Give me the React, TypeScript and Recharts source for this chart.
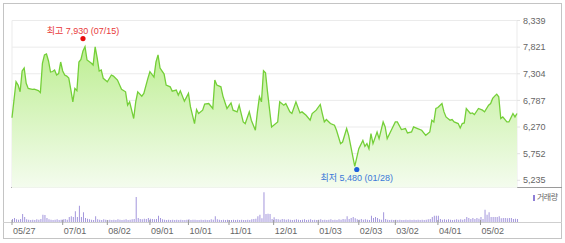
import React from 'react';
import { AreaChart, Area, XAxis, YAxis, CartesianGrid, ReferenceDot, BarChart, Bar } from 'recharts';

// trading-day index (0 = 05/27) and closing price
const priceDays = [
  0, 2, 3, 4, 5, 6, 7, 8, 10, 11, 13, 14, 15, 16, 17, 18, 19, 20, 21, 22, 23, 24, 25, 26, 27, 28, 29, 30, 31, 32,
  33, 34, 35, 36, 37, 39, 40, 41, 42, 43, 44, 45, 47, 49, 50, 52, 54, 56, 57, 58, 60, 61, 62, 64, 65, 67, 68, 70,
  71, 72, 73, 75, 76, 78, 79, 81, 82, 83, 85, 87, 88, 90, 91, 92, 94, 95, 97, 99, 100, 101, 103, 104, 106, 108,
  109, 111, 112, 114, 115, 117, 118, 120, 121, 122, 123, 124, 125, 126, 128, 131, 132, 134, 135, 137, 138, 140,
  142, 143, 145, 147, 148, 150, 152, 153, 154, 155, 157, 159, 160, 162, 163, 165, 166, 169, 171, 173, 174, 175,
  176, 177, 178, 180, 181, 183, 184, 185, 187, 189, 190, 192, 194, 195, 197, 198, 200, 202, 204, 206, 207, 208,
  209, 210, 212, 213, 214, 216, 217, 218, 220, 221, 222, 223, 224, 226, 227, 228, 230, 232, 233, 235, 236, 237,
  238, 239, 240, 241, 242, 244, 245, 247, 248, 249,
];
const priceValues = [
  6450, 7149, 7084, 6954, 7358, 7416, 7118, 7020, 7001, 7006, 6977, 6938, 7508, 7670, 7689, 7553, 7338, 7348,
  7377, 7280, 7309, 7533, 7358, 7280, 7260, 7221, 6997, 6759, 7020, 6977, 7533, 7582, 7748, 7832, 7572, 7514,
  7475, 7826, 7611, 7358, 7377, 7215, 7149, 7280, 7260, 7182, 7001, 6954, 6694, 6759, 6435, 6759, 6954, 6870,
  6923, 7215, 7344, 7241, 7533, 7670, 7416, 7299, 7084, 7051, 6967, 6987, 6889, 6973, 6770, 6923, 6661, 6337,
  6610, 6532, 6597, 6714, 6727, 6630, 7182, 7085, 7051, 6870, 6630, 6739, 6597, 6564, 6694, 6368, 6337, 6564,
  6402, 6207, 6564, 6856, 6759, 7363, 7324, 6948, 6271, 6368, 6759, 6694, 6727, 6564, 6532, 6759, 6544, 6564,
  6499, 6402, 6532, 6597, 6708, 6532, 6368, 6415, 6337, 6304, 6207, 5947, 5978, 6240, 6109, 5504, 5850, 6011,
  5894, 5947, 5850, 6142, 5947, 6173, 6045, 6368, 6271, 6045, 6207, 6368, 6368, 6220, 6240, 6154, 6173, 6271,
  6240, 6207, 6109, 6173, 6402, 6368, 6630, 6649, 6727, 6564, 6466, 6402, 6415, 6368, 6337, 6251, 6337, 6349,
  6630, 6532, 6544, 6513, 6630, 6597, 6564, 6694, 6727, 6825, 6870, 6909, 6856, 6435, 6466, 6368, 6368, 6532,
  6466, 6532,
];

// daily volume (thousand shares), one per trading day
const volumeValues = [
  90, 120, 80, 70, 90, 240, 150, 80, 70, 60,
  70, 60, 80, 70, 90, 220, 210, 120, 80, 70,
  60, 70, 80, 60, 70, 80, 90, 70, 150, 170,
  150, 320, 150, 490, 150, 290, 120, 100, 80, 70,
  60, 170, 80, 70, 60, 80, 70, 60, 70, 60,
  70, 60, 80, 70, 60, 70, 80, 60, 70, 80,
  90, 750, 120, 90, 80, 100, 90, 120, 100, 90,
  80, 90, 190, 120, 80, 70, 60, 70, 60, 70,
  60, 70, 60, 70, 60, 60, 70, 80, 60, 70,
  70, 60, 60, 70, 60, 70, 60, 60, 80, 70,
  170, 80, 70, 60, 70, 60, 70, 60, 60, 70,
  60, 70, 60, 70, 60, 60, 70, 60, 80, 90,
  100, 170, 220, 110, 890, 240, 250, 240, 90, 140,
  90, 80, 70, 90, 80, 70, 80, 70, 60, 70,
  80, 70, 60, 70, 80, 60, 70, 80, 60, 70,
  60, 70, 80, 60, 70, 60, 70, 80, 60, 70,
  60, 80, 70, 90, 80, 170, 90, 120, 150, 110,
  80, 70, 90, 70, 80, 70, 60, 190, 120, 150,
  120, 80, 70, 290, 90, 70, 60, 70, 60, 70,
  60, 70, 60, 60, 70, 60, 70, 60, 70, 60,
  70, 60, 70, 60, 70, 80, 90, 150, 190, 190,
  190, 90, 70, 80, 70, 80, 70, 60, 70, 80,
  70, 80, 70, 90, 150, 120, 90, 120, 90, 120,
  100, 150, 90, 370, 220, 290, 150, 150, 150, 150,
  170, 110, 120, 120, 110, 120, 120, 90, 100, 90,
];

const tickDays = [0, 25, 47, 68, 87, 107, 129, 151, 171, 189, 210, 231];
const tickLabels = ['05/27', '07/01', '08/02', '09/01', '10/01', '11/01', '12/01', '01/03', '02/03', '03/02', '04/01', '05/02'];
const priceTicks = [5235, 5752, 6270, 6787, 7304, 7821, 8339];
const highPoint = { day: 35, price: 7930, label: '최고 7,930 (07/15)' };
const lowPoint = { day: 170, price: 5480, label: '최저 5,480 (01/28)' };
const volumeLabel = '거래량';

const FONT = "'Liberation Sans', Arial, 'Noto Sans CJK KR', sans-serif";

const priceData = priceDays.map((d, i) => ({ d, p: priceValues[i] }));
const volumeData = volumeValues.map((v, i) => ({ d: i, v }));

const DateTick = (props: any) => {
  const { x, y, payload } = props;
  const idx = tickDays.indexOf(payload.value);
  return (
    <g>
      <line x1={x} x2={x} y1={y - 2} y2={y + 3} stroke="#999" strokeWidth={1} />
      <text x={x + 1} y={y + 12} textAnchor="start" fontSize={9} fill="#666" fontFamily={FONT}>
        {idx >= 0 ? tickLabels[idx] : ''}
      </text>
    </g>
  );
};

const HighShape = (props: any) => {
  const { cx, cy } = props;
  return (
    <g>
      <circle cx={cx} cy={cy - 3} r={2.6} fill="#e80c0c" />
      <text x={cx} y={cy - 7.8} textAnchor="middle" fontSize={9} fill="#e83a3a" fontFamily={FONT}>
        {highPoint.label}
      </text>
    </g>
  );
};

const LowShape = (props: any) => {
  const { cx, cy } = props;
  return (
    <g>
      <circle cx={cx} cy={cy + 1.8} r={2.6} fill="#1c5fdc" />
      <text x={cx} y={cy + 13.7} textAnchor="middle" fontSize={9} fill="#3a78d8" fontFamily={FONT}>
        {lowPoint.label}
      </text>
    </g>
  );
};

export default function App() {
  return (
    <div style={{ position: 'absolute', left: 0, top: 0, width: 565, height: 243, background: '#fff', fontFamily: FONT }}>
      <div style={{ position: 'absolute', left: 3, top: 3, width: 557, height: 234, border: '1px solid #c4c4c4' }} />
      <div style={{ position: 'absolute', left: 11, top: 187, width: 551, height: 1, background: '#9a9a9a' }} />
      <div style={{ position: 'absolute', left: 3, top: 222, width: 559, height: 1, background: '#cfcfcf' }} />
      <div style={{ position: 'absolute', left: 0, top: 0 }}>
        <AreaChart width={565} height={187.5} data={priceData} margin={{ top: 20.5, right: 0, left: 12, bottom: 0 }}>
          <defs>
            <linearGradient id="pg" x1="0" y1="0" x2="0" y2="1">
              <stop offset="0%" stopColor="#bdee92" />
              <stop offset="100%" stopColor="#f4fcee" />
            </linearGradient>
          </defs>
          <CartesianGrid stroke="#ebebeb" />
          <XAxis
            type="number"
            dataKey="d"
            domain={[0, 249]}
            ticks={tickDays}
            interval={0}
            tick={false}
            tickLine={false}
            axisLine={false}
            height={0}
          />
          <YAxis
            orientation="right"
            width={48}
            domain={[5095, 8339]}
            ticks={priceTicks}
            interval={0}
            tickFormatter={(v: number) => v.toLocaleString('en-US')}
            tick={{ fontSize: 9, fill: '#666', fontFamily: FONT }}
            tickLine={{ stroke: '#e2e2e2' }}
            tickSize={3}
            tickMargin={3}
            axisLine={false}
          />
          <Area
            type="linear"
            dataKey="p"
            stroke="#74cf38"
            strokeWidth={1.3}
            fill="url(#pg)"
            fillOpacity={1}
            dot={false}
            activeDot={false}
            isAnimationActive={false}
          />
          <ReferenceDot x={highPoint.day} y={highPoint.price} shape={HighShape} />
          <ReferenceDot x={lowPoint.day} y={lowPoint.price} shape={LowShape} />
        </AreaChart>
      </div>
      <div style={{ position: 'absolute', left: 0, top: 189 }}>
        <BarChart width={565} height={54} data={volumeData} margin={{ top: 0, right: 48, left: 12, bottom: 0 }}>
          <XAxis
            type="number"
            dataKey="d"
            domain={[0, 249]}
            ticks={tickDays}
            interval={0}
            tick={<DateTick />}
            tickLine={false}
            axisLine={false}
            tickSize={0}
            tickMargin={0}
            height={21}
          />
          <YAxis hide domain={[0, 990]} />
          <Bar dataKey="v" fill="#a396dc" barSize={1} isAnimationActive={false} />
        </BarChart>
      </div>
      <div style={{ position: 'absolute', left: 533, top: 195, width: 2, height: 6, background: '#8f7fd6' }} />
      <div style={{ position: 'absolute', left: 537, top: 192, fontSize: 8, lineHeight: '11px', color: '#666', fontFamily: FONT, letterSpacing: -0.5 }}>
        {volumeLabel}
      </div>
    </div>
  );
}
